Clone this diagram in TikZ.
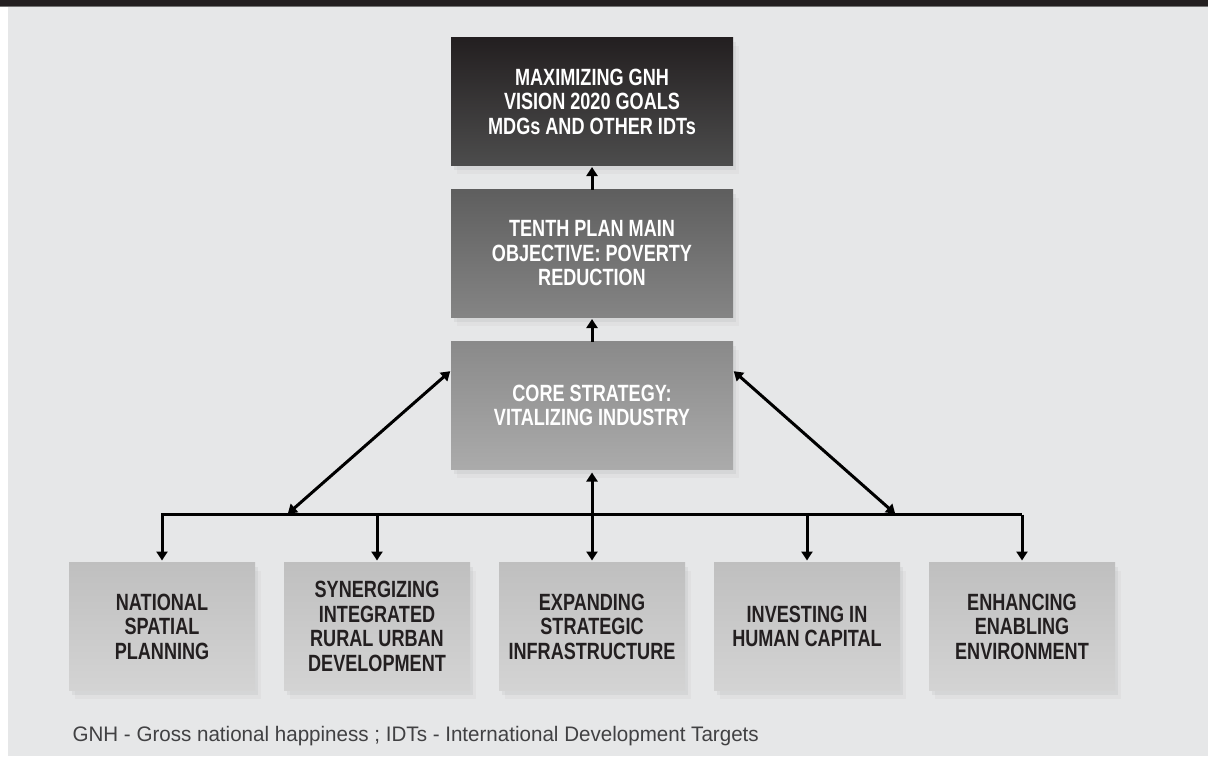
\documentclass[tikz,border=0pt]{standalone}
\usepackage{fontspec}
\setmainfont{Liberation Sans}
\newfontfamily\narrowsf[FakeStretch=0.77]{Liberation Sans}
\newfontfamily\notesf[FakeStretch=0.98]{Liberation Sans}
\usetikzlibrary{arrows.meta,positioning,shadows}
\definecolor{panel}{HTML}{E6E7E8}
\definecolor{header}{HTML}{231F20}
\definecolor{ink}{HTML}{231F20}
\definecolor{note}{HTML}{414143}

\begin{document}
\begin{tikzpicture}[x=1pt,y=1pt,node distance=24pt,line width=3pt,
		>={Triangle[length=9pt,width=11pt]},shorten >=1.5pt,
		box/.style={rectangle,inner sep=0pt,outer sep=0pt,align=center,
			minimum width=282pt,minimum height=128pt,text=white,
			font=\narrowsf\bfseries\fontsize{23.5}{24.5}\selectfont,
			drop shadow={opacity=0.10,shadow xshift=3pt,shadow yshift=-4pt},
			drop shadow={opacity=0.06,shadow xshift=6pt,shadow yshift=-8pt}},
		goal/.style={box,top color=header,bottom color=black!70!white},
		objective/.style={box,top color=black!63!white,bottom color=black!48!white},
		core/.style={box,top color=black!46!white,bottom color=black!33!white},
		area/.style={box,minimum width=186pt,text=ink,
			top color=black!25!white,bottom color=black!17!white}]
		
		% page
		\useasboundingbox (0,0) rectangle (1208,-756);
		\fill[panel] (8,-7) rectangle (1208,-756);
		\fill[header] (0,0) rectangle (1208,-6);
		\fill[black!55!white] (0,-6) rectangle (1208,-7.2);
		
		\node[goal] (G) at (592,-101.5) {MAXIMIZING GNH\\VISION 2020 GOALS\\MDGs AND OTHER IDTs};
		\node[objective] (P) [below=of G] {TENTH PLAN MAIN\\OBJECTIVE: POVERTY\\REDUCTION};
		\node[core] (C) [below=of P] {CORE STRATEGY:\\VITALIZING INDUSTRY};
		
		\node[area] (B3) [below=93pt of C] {EXPANDING\\STRATEGIC\\INFRASTRUCTURE};
		\node[area] (B2) [left=29pt of B3] {SYNERGIZING\\INTEGRATED\\RURAL URBAN\\DEVELOPMENT};
		\node[area] (B1) [left=29pt of B2] {NATIONAL\\SPATIAL\\PLANNING};
		\node[area] (B4) [right=29pt of B3] {INVESTING IN\\HUMAN CAPITAL};
		\node[area] (B5) [right=29pt of B4] {ENHANCING\\ENABLING\\ENVIRONMENT};
		
		\coordinate (J1) at ([yshift=48pt]B1.north);
		\coordinate (J5) at ([yshift=48pt]B5.north);
		\coordinate (DL) at ([xshift=125pt]J1);
		\coordinate (DR) at ([xshift=-126pt]J5);
		\coordinate (CL) at ([yshift=-29pt]C.north west);
		\coordinate (CR) at ([yshift=-29pt]C.north east);
		
		\path[->] (P) edge (G);
		\path[->] (C) edge (P);
		\draw[line cap=rect] (J1) -- (J5);
		\path[->,shorten >=2pt] (J1) edge (B1);
		\path[->,shorten >=2pt] (B2 |- J1) edge (B2);
		\path[->,shorten >=2pt] (B4 |- J1) edge (B4);
		\path[->,shorten >=2pt] (J5) edge (B5);
		\path[<->,shorten <=3pt,shorten >=2pt] (C) edge (B3);
		\path[<->,shorten <=1pt,shorten >=1pt] (CL) edge (DL);
		\path[<->,shorten <=1pt,shorten >=1pt] (CR) edge (DR);
		
		\node[anchor=base west,inner sep=0pt,text=note,font=\notesf\fontsize{21}{24}\selectfont] (N) at (71,-741)
			{GNH - Gross national happiness ; IDTs - International Development Targets};
	\end{tikzpicture}
\end{document}
